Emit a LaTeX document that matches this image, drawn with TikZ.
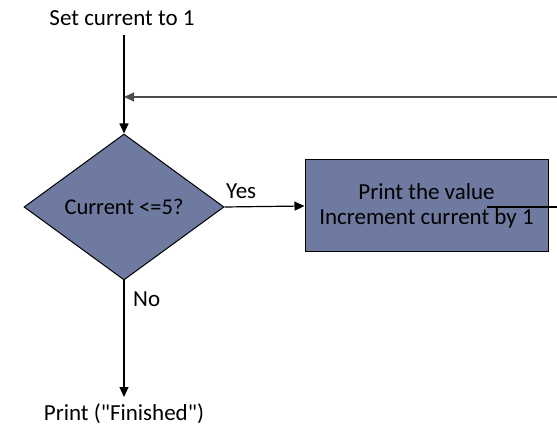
\documentclass[tikz,border=0pt]{standalone}
\usepackage{fontspec}
\newfontfamily\flowfont{Carlito}
\usetikzlibrary{shapes.geometric,arrows.meta}
\newlength{\du}
\setlength{\du}{1pt}
\definecolor{boxfillcolor}{rgb}{0.435,0.478,0.631}
\definecolor{backlinecolor}{rgb}{0.300,0.300,0.300}
\tikzset{
  flowtext/.style={font=\flowfont\fontsize{23}{25}\selectfont, inner sep=2\du},
  decision/.style={diamond, draw=black, line width=1\du, fill=boxfillcolor,
    minimum width=200\du, minimum height=146\du, inner sep=0pt,
    font=\flowfont\fontsize{22.5}{25}\selectfont},
  process/.style={rectangle, draw=black, line width=1\du, fill=boxfillcolor,
    minimum width=243\du, minimum height=92\du, align=center,
    font=\flowfont\fontsize{23}{25}\selectfont},
  flowline/.style={line width=1.2\du, -{Triangle[length=10pt,width=9pt]}}
}
\begin{document}
\begin{tikzpicture}
\pgftransformxscale{1.000000}
\pgftransformyscale{-1.000000}
\useasboundingbox (0\du,0\du) rectangle (557\du,430\du);
% nodes
\node[flowtext] (init) at (122\du,18\du){Set current to 1};
\coordinate (inittail) at (124\du,35\du);
\coordinate (merge) at (124\du,97\du);
\node[decision] (test) at (124\du,207\du){Current <=5?};
\node[process] (body) at (426.5\du,206\du){Print the value\\Increment current by 1};
\node[flowtext] (done) at (124\du,414\du){Print ("Finished")};
% connectors
\draw[line width=1.2\du] (inittail) -- (merge);
\draw[flowline] (merge) -- (test.north);
\draw[flowline] (test.east) -- (body.west);
\node[flowtext, anchor=south west] (yes) at (224\du,201\du){Yes};
\coordinate (bodyout) at (487\du,207\du);
\coordinate (bodyexit) at (567\du,207\du);
\draw[flowline] (bodyout) -- (bodyexit);
\coordinate (backin) at (560\du,97\du);
\draw[flowline, draw=backlinecolor] (backin) -- (merge);
\coordinate (donetip) at (124\du,397\du);
\draw[flowline] (test.south) -- (donetip);
\node[flowtext, anchor=west] (no) at (131\du,299\du){No};
\end{tikzpicture}
\end{document}
